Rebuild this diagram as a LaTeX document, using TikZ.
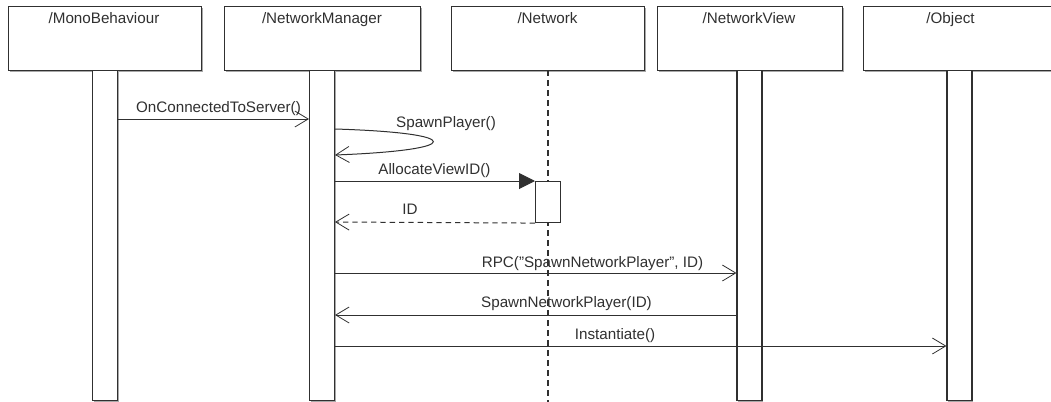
\documentclass[tikz,border=0pt]{standalone}
\usepackage{fontspec}
\setmainfont{Liberation Sans}
\usetikzlibrary{arrows.meta,shadows}
\definecolor{ink}{HTML}{303030}
\definecolor{shade}{HTML}{A8A8A8}
\newcommand{\dq}{\symbol{"22}}

\begin{document}
\begin{tikzpicture}[x=0.75pt,y=-0.75pt,
  every node/.style={font=\fontsize{11.4}{13}\selectfont, text=ink, inner sep=0pt},
  classbox/.style={draw=ink, fill=white, line width=0.8pt, rectangle, anchor=north west,
    minimum height={64*0.75pt},
    drop shadow={shadow xshift=1pt, shadow yshift=-1pt, fill=shade, opacity=1}},
  actbar/.style={draw=ink, fill=white, line width=0.8pt, rectangle, anchor=north,
    minimum width={25*0.75pt}, minimum height={330*0.75pt},
    drop shadow={shadow xshift=1pt, shadow yshift=-1pt, fill=shade, opacity=1}},
  execbox/.style={draw=ink, fill=white, line width=0.8pt, rectangle, anchor=north west,
    minimum width={25*0.75pt}, minimum height={41*0.75pt}},
  lifeline/.style={draw=ink, line width=1pt, dash pattern=on 4.5pt off 3pt},
  msg/.style={draw=ink, line width=0.75pt, -{Straight Barb[length=10pt,width=12pt,line width=0.6pt]}},
  callmsg/.style={draw=ink, line width=0.75pt, -{Triangle[length=12pt,width=12pt]}},
  retmsg/.style={msg, dash pattern=on 4pt off 3pt},
  title/.style={anchor=base},
  msglabel/.style={anchor=base}
]
\useasboundingbox (0,0) rectangle (1051,401);

% class headers
\node[classbox, minimum width={193*0.75pt}] (mono) at (8,6) {};
\node[classbox, minimum width={196*0.75pt}] (nm) at (224,6) {};
\node[classbox, minimum width={193*0.75pt}] (net) at (451,6) {};
\node[classbox, minimum width={185*0.75pt}] (nv) at (657,6) {};
\node[classbox, minimum width={192*0.75pt}] (obj) at (863,6) {};

\node[title] (monoT) at (104,23.5) {/MonoBehaviour};
\node[title] (nmT) at (322,23.5) {/NetworkManager};
\node[title] (netT) at (547.5,23.5) {/Network};
\node[title] (nvT) at (749,23.5) {/NetworkView};
\node[title] (objT) at (950.5,23.5) {/Object};

% activation bars
\node[actbar] (monoBar) at (105,70) {};
\node[actbar] (nmBar) at (322,70) {};
\node[actbar] (nvBar) at (749.5,70) {};
\node[actbar] (objBar) at (959.5,70) {};

% message labels
\node[msglabel] (l1) at (218.5,112.5) {OnConnectedToServer()};
\node[msglabel] (l2) at (446,127.5) {SpawnPlayer()};
\node[msglabel] (l3) at (434.5,174.5) {AllocateViewID()};
\node[msglabel] (l4) at (410,214.5) {ID};
\node[msglabel] (l5) at (592.5,267.5) {RPC(\dq SpawnNetworkPlayer\dq, ID)};
\node[msglabel] (l6) at (566.5,307.5) {SpawnNetworkPlayer(ID)};
\node[msglabel] (l7) at (615,339.5) {Instantiate()};

% Network lifeline, drawn over the labels it crosses
\coordinate (netTop) at (548,70);
\coordinate (netBot) at (548,402);
\draw[lifeline] (netTop) -- (netBot);

% execution on Network
\node[execbox] (netExec) at (535,181) {};

% messages
\draw[msg] (monoBar.east |- 0,119) -- (nmBar.west |- 0,119);
\draw[msg] (nmBar.east |- 0,129) .. controls (466,133) and (466,150) .. (nmBar.east |- 0,155);
\draw[callmsg] (nmBar.east |- 0,181) -- (netExec.north west);
\draw[retmsg] (netExec.south west) -- (nmBar.east |- 0,222);
\draw[msg] (nmBar.east |- 0,273) -- (nvBar.west |- 0,273);
\draw[msg] (nvBar.west |- 0,315) -- (nmBar.east |- 0,315);
\draw[msg] (nmBar.east |- 0,346) -- (objBar.west |- 0,346);
\end{tikzpicture}
\end{document}
